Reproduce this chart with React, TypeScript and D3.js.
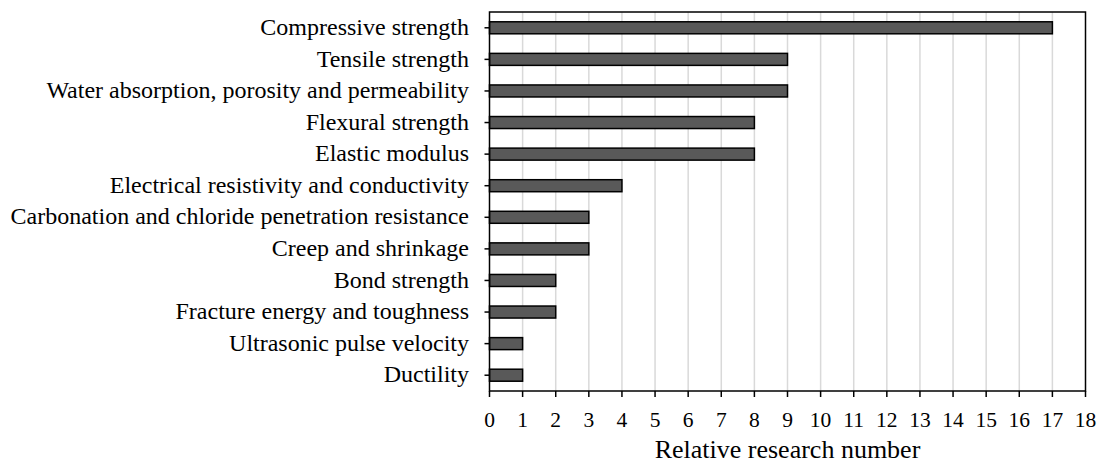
import React from "react";
import * as d3 from "d3";

const categories = [
  "Compressive strength",
  "Tensile strength",
  "Water absorption, porosity and permeability",
  "Flexural strength",
  "Elastic modulus",
  "Electrical resistivity and conductivity",
  "Carbonation and chloride penetration resistance",
  "Creep and shrinkage",
  "Bond strength",
  "Fracture energy and toughness",
  "Ultrasonic pulse velocity",
  "Ductility",
];
const values = [17, 9, 9, 8, 8, 4, 3, 3, 2, 2, 1, 1];
const xTicks = d3.range(0, 19);
const xTitle = "Relative research number";

export default function App() {
  const W = 1101, H = 466;
  const left = 489.5, right = 1085.5, top = 12, bottom = 391;
  const x = d3.scaleLinear().domain([0, 18]).range([left, right]);
  const y = d3.scaleBand<string>().domain(categories).range([top, bottom]).paddingInner(0.62).paddingOuter(0.31);
  const font = "'Liberation Serif', 'Times New Roman', serif";
  return (
    <svg width={W} height={H} style={{ position: "absolute", left: 0, top: 0 }} fontFamily={font}>
      <rect x={0} y={0} width={W} height={H} fill="#fff" />
      {xTicks.slice(1, -1).map((t) => (
        <line key={"g" + t} x1={x(t)} x2={x(t)} y1={top} y2={bottom} stroke="#d9d9d9" strokeWidth={1.5} />
      ))}
      {categories.map((c, i) => (
        <rect key={c} x={x(0)} y={y(c)} width={x(values[i]) - x(0)} height={y.bandwidth()} fill="#595959" stroke="#000" strokeWidth={1.5} />
      ))}
      <rect x={left} y={top} width={right - left} height={bottom - top} fill="none" stroke="#000" strokeWidth={1.5} />
      {xTicks.map((t) => (
        <g key={"t" + t}>
          <line x1={x(t)} x2={x(t)} y1={bottom} y2={bottom + 6} stroke="#000" strokeWidth={1.5} />
          <text x={x(t)} y={427} textAnchor="middle" fontSize={21.5}>{t}</text>
        </g>
      ))}
      {categories.map((c) => (
        <g key={"l" + c}>
          <line x1={left - 5} x2={left} y1={y(c)! + y.bandwidth() / 2} y2={y(c)! + y.bandwidth() / 2} stroke="#000" strokeWidth={1.5} />
          <text x={469} y={y(c)! + y.bandwidth() / 2} dy="0.3em" textAnchor="end" fontSize={24}>{c}</text>
        </g>
      ))}
      <text x={(left + right) / 2} y={458} textAnchor="middle" fontSize={26}>{xTitle}</text>
    </svg>
  );
}
